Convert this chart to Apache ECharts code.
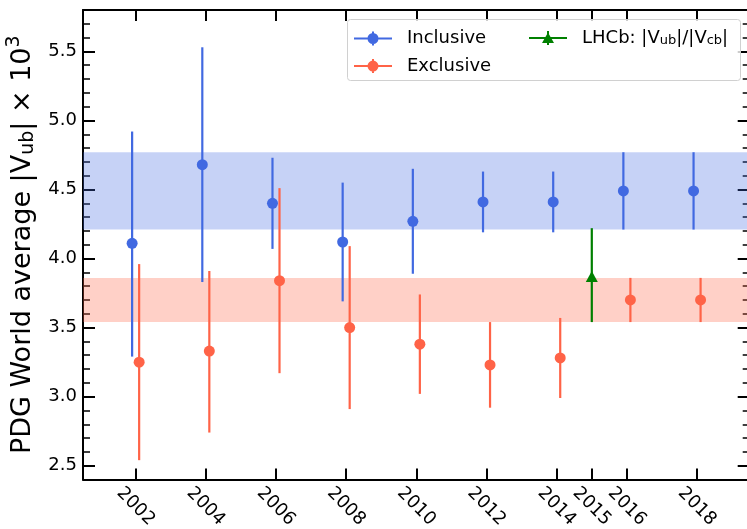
<!DOCTYPE html>
<html>
<head>
<meta charset="utf-8">
<script src="https://cdn.jsdelivr.net/npm/echarts@6/dist/echarts.min.js"></script>
<style>html,body{margin:0;padding:0;background:#fff;}#c{width:747px;height:529px;}</style>
</head>
<body>
<div id="c"></div>
<script>
// ---- data ----
const years = [2002, 2004, 2006, 2008, 2010, 2012, 2014, 2016, 2018];
const inclusiveVal     = [4.11, 4.68, 4.40, 4.12, 4.27, 4.41, 4.41, 4.49, 4.49];
const inclusiveErrUp   = [0.81, 0.85, 0.33, 0.43, 0.38, 0.22, 0.22, 0.28, 0.28];
const inclusiveErrDown = [0.82, 0.85, 0.33, 0.43, 0.38, 0.22, 0.22, 0.28, 0.28];
const exclusiveVal     = [3.25, 3.33, 3.84, 3.50, 3.38, 3.23, 3.28, 3.70, 3.70];
const exclusiveErrUp   = [0.71, 0.58, 0.67, 0.59, 0.36, 0.31, 0.29, 0.16, 0.16];
const exclusiveErrDown = [0.71, 0.59, 0.67, 0.59, 0.36, 0.31, 0.29, 0.16, 0.16];
const lhcbYears   = [2015];
const lhcbVal     = [3.87];
const lhcbErrUp   = [0.35];
const lhcbErrDown = [0.33];
const inclusiveBand = [4.21, 4.77];
const exclusiveBand = [3.54, 3.86];
const xTickLabels = [2002, 2004, 2006, 2008, 2010, 2012, 2014, 2015, 2016, 2018];
const yTickLabels = [2.5, 3.0, 3.5, 4.0, 4.5, 5.0, 5.5];
const yMinorTicks = [];
for (let i = 24; i <= 58; i++) yMinorTicks.push(i / 10);

// ---- presentation ----
const DODGE = 0.1;
const BLUE = '#4169E1', RED = '#FF6347', GREEN = '#008000';
const FONT = 'DejaVu Sans';
const XMIN = 2000.5, XMAX = 2019.5, YMIN = 2.4, YMAX = 5.8;

function pts(xs, vals, shift) { return xs.map((x, i) => [x + shift, vals[i]]); }
function bars(xs, vals, up, down, shift) { return xs.map((x, i) => [x + shift, vals[i] - down[i], vals[i] + up[i]]); }

function errRender(color) {
  return function (params, api) {
    const p1 = api.coord([api.value(0), api.value(1)]);
    const p2 = api.coord([api.value(0), api.value(2)]);
    return { type: 'line', shape: { x1: p1[0], y1: p1[1], x2: p2[0], y2: p2[1] },
      style: { stroke: color, lineWidth: 2.2 } };
  };
}

const circIcon = 'path://M0 6H38V8H0Z M18 0H20V14H18Z M24.5 7A5.5 5.5 0 1 1 13.5 7A5.5 5.5 0 1 1 24.5 7Z';
const triIcon  = 'path://M0 6H38V8H0Z M18 0H20V14H18Z M19 1.5L25 12L13 12Z';

const axisLineStyle = { show: true, onZero: false, lineStyle: { color: '#000', width: 2 } };
const fmtYear = v => String(Math.round(v));

const chart = echarts.init(document.getElementById('c'), null, { renderer: 'canvas' });
chart.setOption({
  animation: false,
  backgroundColor: '#fff',
  grid: { left: 83, top: 10, width: 666.7, height: 469.5, outerBoundsMode: 'none', containLabel: false },
  xAxis: [
    { type: 'value', position: 'bottom', min: XMIN, max: XMAX,
      axisLine: axisLineStyle, splitLine: { show: false },
      axisTick: { inside: true, length: 11, customValues: xTickLabels, lineStyle: { color: '#000', width: 2 } },
      axisLabel: { customValues: xTickLabels, formatter: fmtYear, rotate: -45, align: 'center', verticalAlign: 'middle',
        margin: 27, color: '#000', fontFamily: FONT, fontSize: 18 } },
    { type: 'value', position: 'top', min: XMIN, max: XMAX,
      axisLine: axisLineStyle, splitLine: { show: false },
      axisTick: { inside: true, length: 11, customValues: xTickLabels, lineStyle: { color: '#000', width: 2 } },
      axisLabel: { show: false } }
  ],
  yAxis: [
    { type: 'value', position: 'left', min: YMIN, max: YMAX,
      axisLine: axisLineStyle, splitLine: { show: false },
      axisTick: { inside: true, length: 12, customValues: yTickLabels, lineStyle: { color: '#000', width: 2 } },
      axisLabel: { customValues: yTickLabels, formatter: v => v.toFixed(1), margin: 6, color: '#000', fontFamily: FONT, fontSize: 18 },
      name: '{t|PDG World average |V}{s|ub}{t|| × 10}{p|3}',
      nameLocation: 'middle', nameGap: 33, nameRotate: 90,
      nameTextStyle: { color: '#000', fontFamily: FONT, fontSize: 27,
        rich: { t: { fontFamily: FONT, fontSize: 27, color: '#000' },
                s: { fontFamily: FONT, fontSize: 19, color: '#000', padding: [9, 0, 0, 0] },
                p: { fontFamily: FONT, fontSize: 19, color: '#000', padding: [0, 0, 19, 0] } } } },
    { type: 'value', position: 'left', min: YMIN, max: YMAX,
      axisLine: { show: false }, splitLine: { show: false }, axisLabel: { show: false },
      axisTick: { inside: true, length: 7, customValues: yMinorTicks, lineStyle: { color: '#000', width: 1.5 } } },
    { type: 'value', position: 'right', min: YMIN, max: YMAX,
      axisLine: axisLineStyle, splitLine: { show: false }, axisLabel: { show: false },
      axisTick: { inside: true, length: 12, customValues: yTickLabels, lineStyle: { color: '#000', width: 2 } } },
    { type: 'value', position: 'right', min: YMIN, max: YMAX,
      axisLine: { show: false }, splitLine: { show: false }, axisLabel: { show: false },
      axisTick: { inside: true, length: 7, customValues: yMinorTicks, lineStyle: { color: '#000', width: 1.5 } } }
  ],
  graphic: [{
    type: 'rect', z: 50, silent: true,
    shape: { x: 347.5, y: 19.5, width: 393, height: 61, r: 3 },
    style: { fill: 'rgba(255,255,255,0.8)', stroke: '#d0d0d0', lineWidth: 1 }
  }],
  legend: [
    { orient: 'vertical', left: 354, top: 29.5, padding: 0, itemWidth: 38, itemHeight: 14, itemGap: 9.6, z: 60,
      selectedMode: false,
      textStyle: { color: '#000', fontFamily: FONT, fontSize: 18, lineHeight: 18, padding: [0, 0, 0, 10] },
      data: [{ name: 'Inclusive', icon: circIcon }, { name: 'Exclusive', icon: circIcon }] },
    { orient: 'vertical', left: 529, top: 29, padding: 0, itemWidth: 38, itemHeight: 14, z: 60,
      selectedMode: false,
      formatter: () => 'LHCb: |V{s|ub}|/|V{s|cb}|',
      textStyle: { color: '#000', fontFamily: FONT, fontSize: 18, lineHeight: 18, padding: [0, 0, 0, 10],
        rich: { s: { fontFamily: FONT, fontSize: 13, color: '#000', padding: [6, 0, 0, 0] } } },
      data: [{ name: 'LHCb', icon: triIcon }] }
  ],
  series: [
    { name: 'bands', type: 'scatter', data: [], z: 1, silent: true,
      markArea: { silent: true,
        data: [
          [{ yAxis: inclusiveBand[0], itemStyle: { color: 'rgba(65,105,225,0.3)' } }, { yAxis: inclusiveBand[1] }],
          [{ yAxis: exclusiveBand[0], itemStyle: { color: 'rgba(255,99,71,0.3)' } }, { yAxis: exclusiveBand[1] }]
        ] } },
    { name: 'incErr', type: 'custom', z: 3, silent: true, renderItem: errRender(BLUE),
      data: bars(years, inclusiveVal, inclusiveErrUp, inclusiveErrDown, -DODGE) },
    { name: 'Inclusive', type: 'scatter', z: 4, silent: true, symbol: 'circle', symbolSize: 11,
      itemStyle: { color: BLUE, opacity: 1 }, data: pts(years, inclusiveVal, -DODGE) },
    { name: 'excErr', type: 'custom', z: 3, silent: true, renderItem: errRender(RED),
      data: bars(years, exclusiveVal, exclusiveErrUp, exclusiveErrDown, DODGE) },
    { name: 'Exclusive', type: 'scatter', z: 4, silent: true, symbol: 'circle', symbolSize: 11,
      itemStyle: { color: RED, opacity: 1 }, data: pts(years, exclusiveVal, DODGE) },
    { name: 'lhcbErr', type: 'custom', z: 3, silent: true, renderItem: errRender(GREEN),
      data: bars(lhcbYears, lhcbVal, lhcbErrUp, lhcbErrDown, 0) },
    { name: 'LHCb', type: 'scatter', z: 4, silent: true, symbol: 'triangle', symbolSize: [12, 11],
      itemStyle: { color: GREEN, opacity: 1 }, data: pts(lhcbYears, lhcbVal, 0) }
  ]
});
</script>
</body>
</html>
